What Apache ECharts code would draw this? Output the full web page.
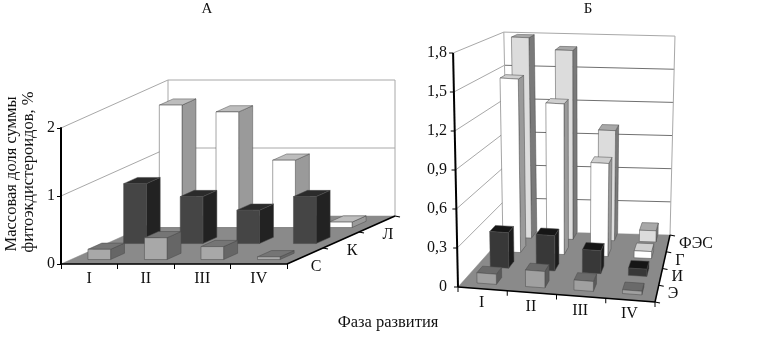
<!DOCTYPE html>
<html><head><meta charset="utf-8">
<script src="https://cdn.jsdelivr.net/npm/echarts@6/dist/echarts.min.js"></script>
<style>html,body{margin:0;padding:0;background:#fff}#c{width:768px;height:340px}</style>
</head><body><div id="c"></div>
<script>
// Panel A data
const phases = ['I','II','III','IV'];
const rowsA = ['С','К','Л'];
const valuesA_S = [0.15,0.32,0.19,0.04];
const valuesA_K = [0.88,0.69,0.49,0.69];
const valuesA_L = [1.80,1.70,0.99,0.08];
const ticksA = [0,1,2];
// Panel B data
const rowsB = ['Э','И','Г','ФЭС'];
const valuesB_E = [0.08,0.13,0.08,0.03];
const valuesB_I = [0.29,0.29,0.19,0.06];
const valuesB_G = [1.48,1.29,0.80,0.06];
const valuesB_F = [1.78,1.68,0.98,0.10];
const ticksB = [0,0.3,0.6,0.9,1.2,1.5,1.8];

const SERIF = '"Liberation Serif","DejaVu Serif",serif';
const lerp = (a,b,t)=>a+(b-a)*t;
const panelA = {f0:[61,264],f1:[287,264],b0:[168,216],b1:[395,216],s:[1,1,1,1],lean0:0,lean1:0,
  d0:[0.28/3,1.28/3,2.28/3],depth:0.39/3,dc:[1/6,3/6,5/6],dticks:[1/3,2/3,1],
  wall:'#a8a8a8',wall2:'#a8a8a8',floor:'#8a8a8a',labelDx:11,labelDy:11,ticks:ticksA,rows:rowsA,xAxisDrawn:true};
const panelB = {f0:[458,287],f1:[655,302],b0:[508,231],b1:[670,235],s:[1,0.96,0.85,0.85],lean0:-0.021,lean1:0.046,
  d0:[0.09,0.37,0.64,0.89],depth:0.12,dc:[0.12,0.37,0.62,0.87],dticks:[0,0.25,0.5,0.75,1],
  wall:'#a8a8a8',wall2:'#707070',floor:'#8a8a8a',labelDx:11,labelDy:0,ticks:ticksB,rows:rowsB,xAxisDrawn:false};

function proj(P,u,d,h){
  let x=lerp(lerp(P.f0[0],P.f1[0],u),lerp(P.b0[0],P.b1[0],u),d);
  let y=lerp(lerp(P.f0[1],P.f1[1],u),lerp(P.b0[1],P.b1[1],u),d);
  const s=lerp(lerp(P.s[0],P.s[1],u),lerp(P.s[2],P.s[3],u),d);
  const H=h*s;
  return [x+H*(P.lean0+P.lean1*u),y-H];
}
const poly=(pts,fill,stroke,lw)=>({type:'polygon',shape:{points:pts},style:{fill:fill,stroke:stroke||fill,lineWidth:lw==null?0.5:lw}});
const line=(a,b,stroke,lw)=>({type:'line',shape:{x1:a[0],y1:a[1],x2:b[0],y2:b[1]},style:{stroke:stroke,lineWidth:lw||1}});
const txt=(s,x,y,align,size)=>({type:'text',style:{text:s,x:x,y:y,align:align||'center',verticalAlign:'middle',fill:'#111',fontSize:size||16,fontFamily:SERIF}});

function backdrop(P){
  return function(params,api){
    const base=api.coord([0,0])[1];
    const px=v=>base-api.coord([0,v])[1];
    const kids=[];
    const p=(u,d,v)=>proj(P,u,d,px(v));
    const maxV=P.ticks[P.ticks.length-1];
    kids.push(poly([p(0,0,0),p(1,0,0),p(1,1,0),p(0,1,0)],P.floor));
    P.ticks.forEach((t,i)=>{
      if(i===0) return;
      kids.push(line(p(0,0,t),p(0,1,t),P.wall,1));
      kids.push(line(p(0,1,t),p(1,1,t),i===P.ticks.length-1?P.wall:P.wall2,1));
    });
    kids.push(line(p(0,1,0),p(0,1,maxV),P.wall,1));
    kids.push(line(p(1,1,0),p(1,1,maxV),P.wall,1));
    // depth edge, ticks and labels
    kids.push(line(p(1,0,0),p(1,1,0),'#000',1.5));
    P.dticks.forEach(d=>{const q=p(1,d,0);kids.push(line(q,[q[0]+5,q[1]+1],'#000',1.2));});
    P.rows.forEach((r,i)=>{const q=p(1,P.dc[i],0);kids.push(txt(r,q[0]+P.labelDx,q[1]+P.labelDy,P.xAxisDrawn?'center':'left',16));});
    if(!P.xAxisDrawn){
      kids.push(line(p(0,0,0),p(1,0,0),'#000',1.5));
      kids.push(line(p(0,0,0),p(0,0,maxV),'#000',2));
      P.ticks.forEach(t=>{const q=p(0,0,t);kids.push(line(q,[q[0]-4,q[1]],'#000',1));});
      [0,0.25,0.5,0.75,1].forEach(u=>{const q=p(u,0,0);kids.push(line(q,[q[0],q[1]+5],'#000',1));});
      phases.forEach((ph,i)=>{const q=p((i+0.5)/phases.length,0,0);kids.push(txt(ph,q[0]-1,q[1]+14,'center',16));});
    }
    return {type:'group',children:kids};
  };
}
function bars(P,row,face,top,side){
  return function(params,api){
    const cs=params.coordSys;
    const cx=(api.coord([api.value(0),0])[0]-cs.x)/cs.width;
    const w=api.size([1,0])[0]/cs.width*0.4;
    const H=api.coord([0,0])[1]-api.coord([0,api.value(1)])[1];
    const u0=cx-w/2,u1=cx+w/2,d0=P.d0[row],d1=d0+P.depth;
    const p=(u,d,h)=>proj(P,u,d,h);
    const edge='#4a4a4a';
    return {type:'group',children:[
      poly([p(u1,d0,0),p(u1,d1,0),p(u1,d1,H),p(u1,d0,H)],side,edge),
      poly([p(u0,d0,H),p(u1,d0,H),p(u1,d1,H),p(u0,d1,H)],top,edge),
      poly([p(u0,d0,0),p(u1,d0,0),p(u1,d0,H),p(u0,d0,H)],face,edge)
    ]};
  };
}
const mk=(vals)=>vals.map((v,i)=>[i,v]);
function barSeries(name,P,row,vals,colors,idx){
  return {type:'custom',name:name,xAxisIndex:idx,yAxisIndex:idx,z:3+P.rows.length-row,
    encode:{x:0,y:1},data:mk(vals),renderItem:bars(P,row,colors[0],colors[1],colors[2]),silent:true};
}
const option={
  animation:false,backgroundColor:'#fff',
  grid:[{left:61,top:128,width:226,height:136},{left:458,top:53,width:197,height:234}],
  xAxis:[
    {gridIndex:0,type:'category',data:phases,z:6,axisLine:{lineStyle:{color:'#000',width:1.5}},
     axisTick:{show:true,length:5,lineStyle:{color:'#000'}},
     axisLabel:{color:'#111',fontSize:16,fontFamily:SERIF,margin:7},splitLine:{show:false}},
    {gridIndex:1,type:'category',data:phases,show:false}
  ],
  yAxis:[
    {gridIndex:0,type:'value',min:0,max:2,interval:1,z:6,axisLine:{show:true,lineStyle:{color:'#000',width:2}},
     axisTick:{show:true,length:4,lineStyle:{color:'#000'}},
     axisLabel:{color:'#111',fontSize:16,fontFamily:SERIF,margin:6},splitLine:{show:false}},
    {gridIndex:1,type:'value',min:0,max:1.8,interval:0.3,axisLine:{show:false},axisTick:{show:false},
     axisLabel:{color:'#111',fontSize:16,fontFamily:SERIF,margin:11,
       formatter:v=>String(Math.round(v*10)/10).replace('.',',')},splitLine:{show:false}}
  ],
  series:[
    {type:'custom',xAxisIndex:0,yAxisIndex:0,z:2,data:[[0,0]],encode:{x:0,y:1},renderItem:backdrop(panelA),silent:true},
    barSeries('Л',panelA,2,valuesA_L,['#ffffff','#bdbdbd','#9a9a9a'],0),
    barSeries('К',panelA,1,valuesA_K,['#454545','#2b2b2b','#222222'],0),
    barSeries('С',panelA,0,valuesA_S,['#a8a8a8','#757575','#666666'],0),
    {type:'custom',xAxisIndex:1,yAxisIndex:1,z:2,data:[[0,0]],encode:{x:0,y:1},renderItem:backdrop(panelB),silent:true},
    barSeries('ФЭС',panelB,3,valuesB_F,['#dcdcdc','#a8a8a8','#7a7a7a'],1),
    barSeries('Г',panelB,2,valuesB_G,['#ffffff','#cfcfcf','#9a9a9a'],1),
    barSeries('И',panelB,1,valuesB_I,['#383838','#161616','#1c1c1c'],1),
    barSeries('Э',panelB,0,valuesB_E,['#a0a0a0','#6a6a6a','#5a5a5a'],1)
  ],
  graphic:[
    {type:'text',x:207,y:9,style:{text:'А',fontSize:15,fontFamily:SERIF,fill:'#111',align:'center',verticalAlign:'middle'}},
    {type:'text',x:588,y:9,style:{text:'Б',fontSize:15,fontFamily:SERIF,fill:'#111',align:'center',verticalAlign:'middle'}},
    {type:'text',x:388,y:323,style:{text:'Фаза развития',fontSize:16.5,fontFamily:SERIF,fill:'#111',align:'center',verticalAlign:'middle'}},
    {type:'text',x:12,y:174,rotation:Math.PI/2,style:{text:'Массовая доля суммы',fontSize:16.5,fontFamily:SERIF,fill:'#111',align:'center',verticalAlign:'middle'}},
    {type:'text',x:29,y:172,rotation:Math.PI/2,style:{text:'фитоэкдистероидов, %',fontSize:16.5,fontFamily:SERIF,fill:'#111',align:'center',verticalAlign:'middle'}}
  ]
};
echarts.init(document.getElementById('c'),null,{renderer:'canvas'}).setOption(option);
</script></body></html>
